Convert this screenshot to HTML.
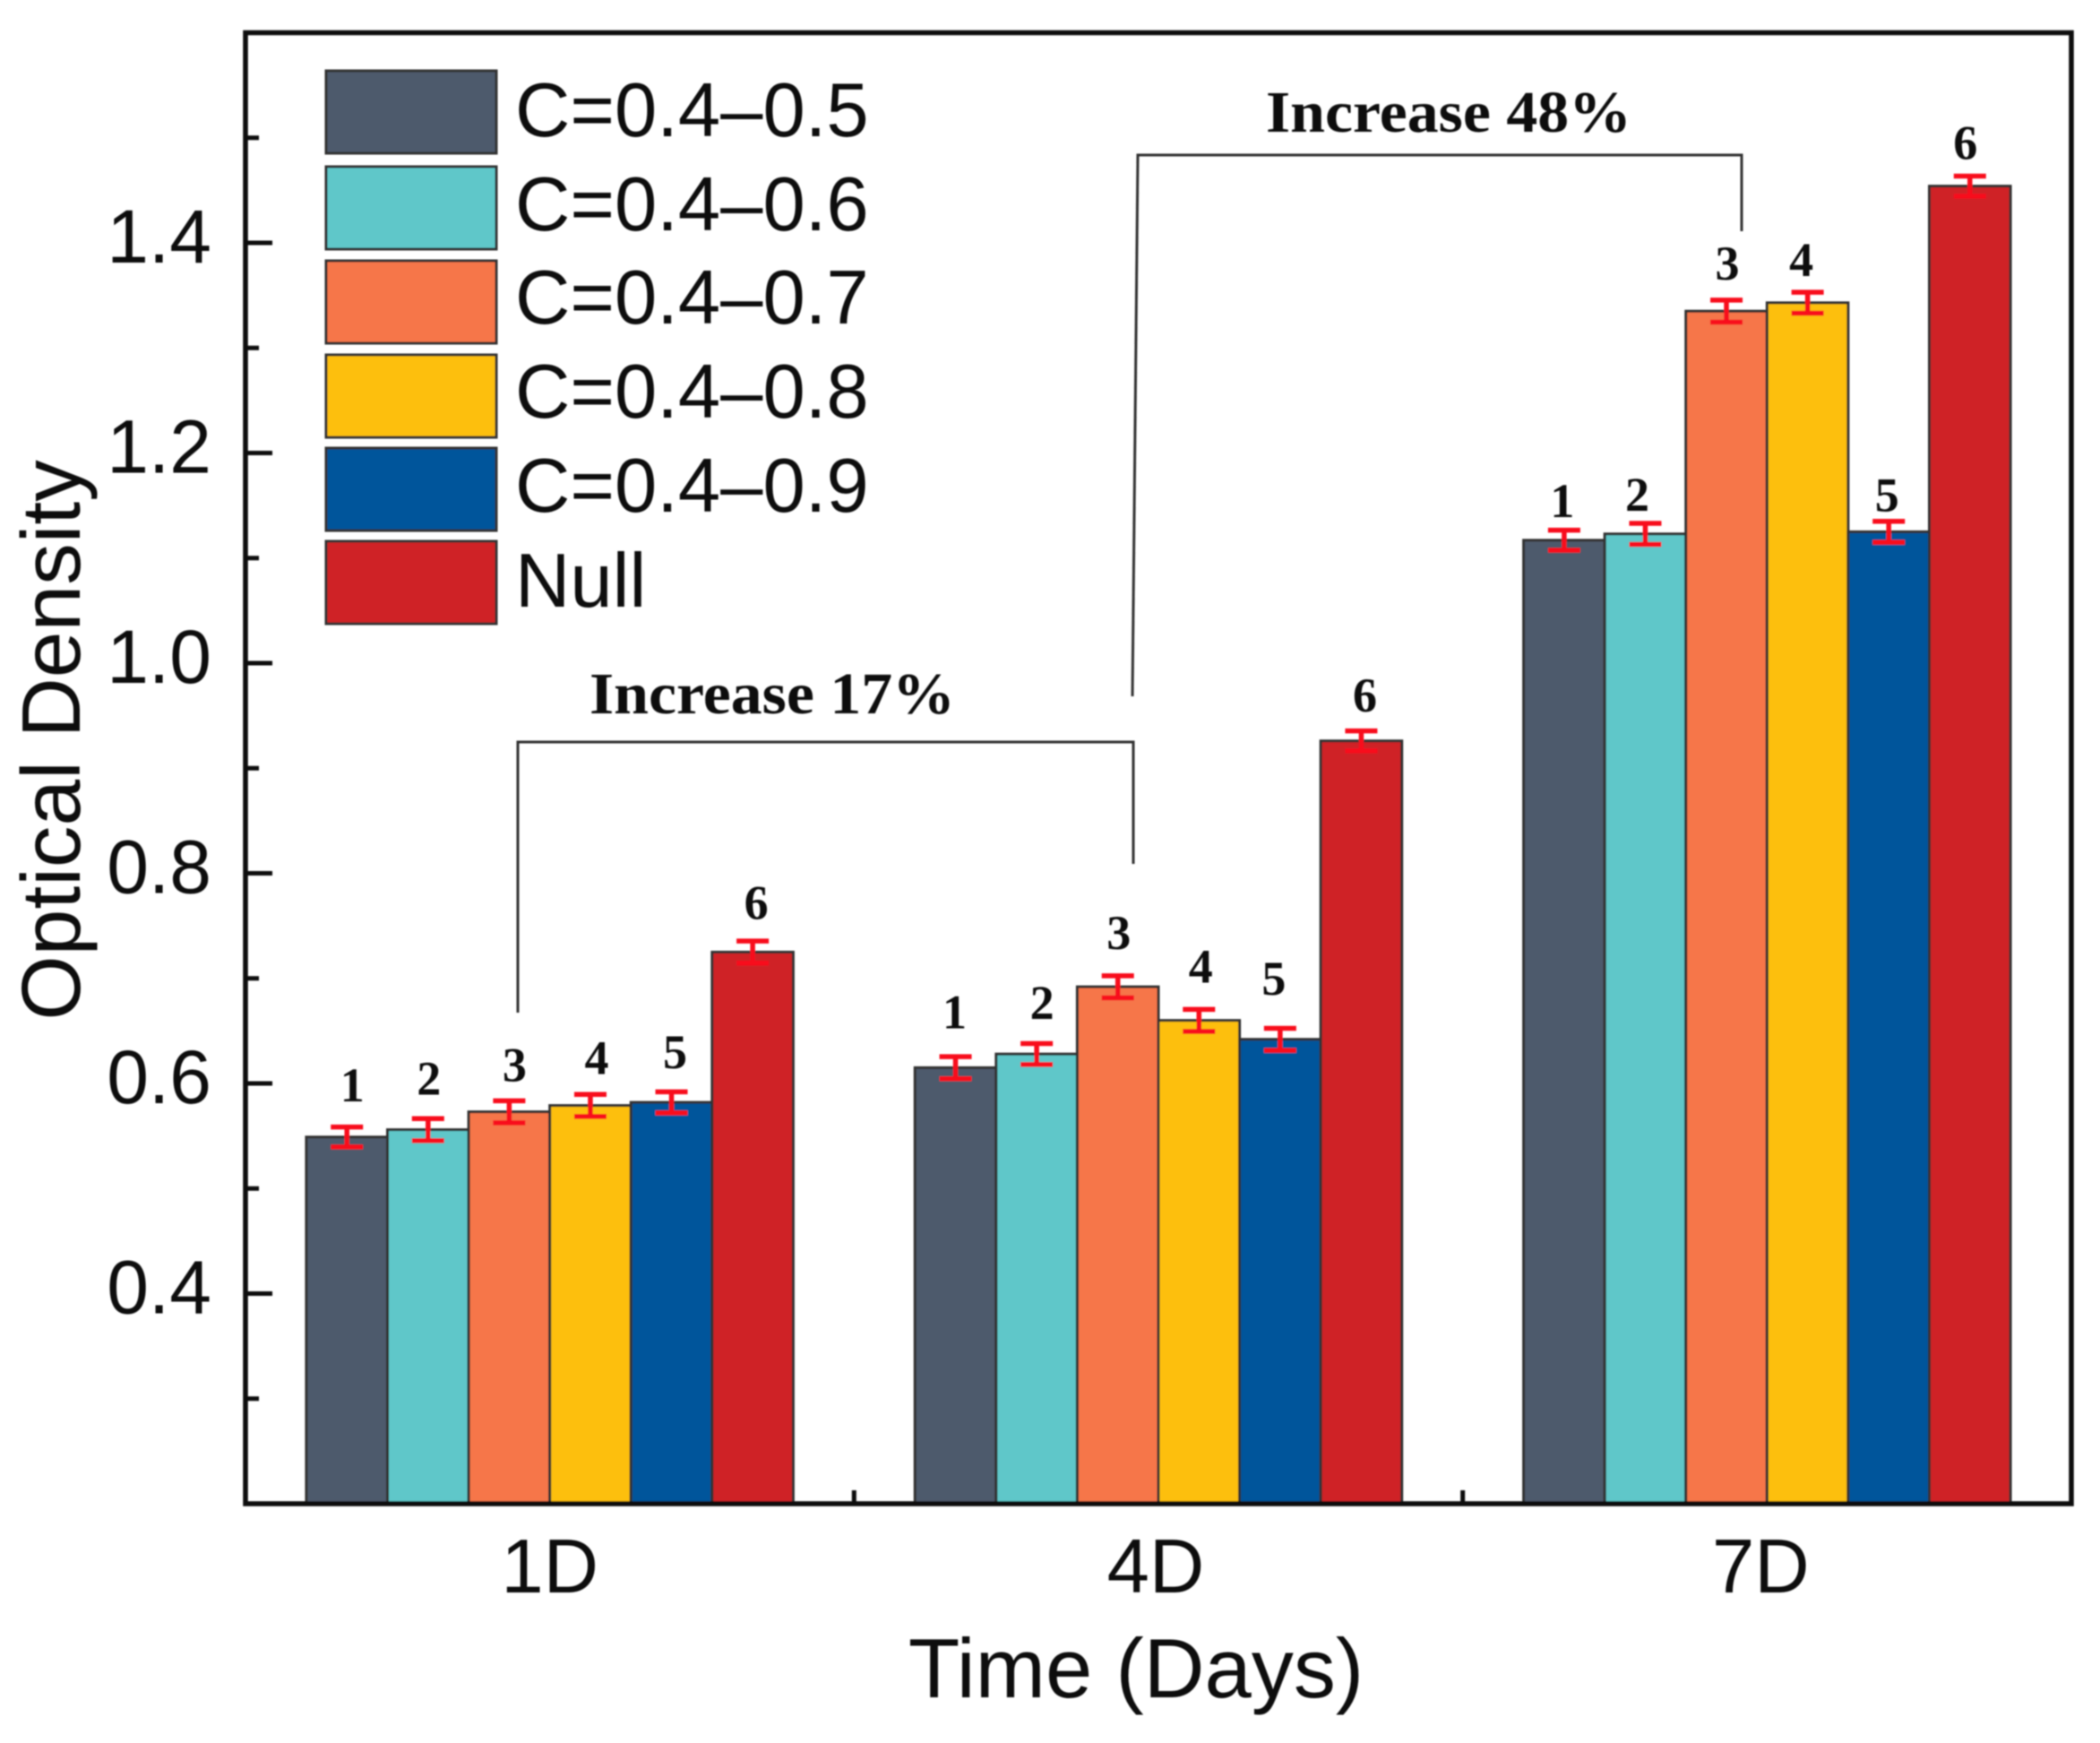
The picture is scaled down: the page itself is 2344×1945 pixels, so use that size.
<!DOCTYPE html>
<html lang="en">
<head>
<meta charset="utf-8">
<title>Optical Density by Time</title>
<style>
  html, body { margin: 0; padding: 0; background: #fff; width: 2344px; height: 1945px; overflow: hidden; }
  svg { display: block; }
  .sans { font-family: "Liberation Sans", Arial, sans-serif; fill: #111; }
  .serif { font-family: "Liberation Serif", "Times New Roman", serif; font-weight: bold; fill: #111; }
</style>
</head>
<body>
<svg id="chart" xmlns="http://www.w3.org/2000/svg" width="2344" height="1945" viewBox="0 0 2344 1945">
  <defs>
    <filter id="soft" x="-2%" y="-2%" width="104%" height="104%"><feGaussianBlur stdDeviation="0.9"/></filter>
  </defs>
  <g id="root" filter="url(#soft)">
    <g id="ticks"></g>
    <g id="bars"></g>
    <g id="errors"></g>
    <g id="numbers"></g>
    <rect x="274" y="36.5" width="2038" height="1641.5" fill="none" stroke="#0c0c0c" stroke-width="5.5"/>

    <text class="sans" font-size="93" text-anchor="middle" transform="translate(89 826) rotate(-90)">Optical Density</text>
    <text class="sans" font-size="94" text-anchor="middle" x="1268" y="1894">Time (Days)</text>

    <g>
      <g>
        <rect x="364" y="79" width="190" height="92" fill="#4e5a6c" stroke="#333" stroke-width="3"/>
        <text class="sans" x="575" y="152" font-size="85">C=0.4–0.5</text>
      </g>
      <g>
        <rect x="364" y="186" width="190" height="92" fill="#5fc7c9" stroke="#333" stroke-width="3"/>
        <text class="sans" x="575" y="257" font-size="85">C=0.4–0.6</text>
      </g>
      <g>
        <rect x="364" y="291" width="190" height="92" fill="#f6764a" stroke="#333" stroke-width="3"/>
        <text class="sans" x="575" y="361" font-size="85">C=0.4–0.7</text>
      </g>
      <g>
        <rect x="364" y="396" width="190" height="92" fill="#fdbf0f" stroke="#333" stroke-width="3"/>
        <text class="sans" x="575" y="466" font-size="85">C=0.4–0.8</text>
      </g>
      <g>
        <rect x="364" y="500" width="190" height="92" fill="#04559b" stroke="#333" stroke-width="3"/>
        <text class="sans" x="575" y="571" font-size="85">C=0.4–0.9</text>
      </g>
      <g>
        <rect x="364" y="604" width="190" height="92" fill="#cf2027" stroke="#333" stroke-width="3"/>
        <text class="sans" x="575" y="677" font-size="85">Null</text>
      </g>
    </g>

    <g>
      <polyline points="578,1130 578,828 1265,828 1265,964" fill="none" stroke="#333" stroke-width="3"/>
      <text class="serif" x="658" y="796" font-size="66" textLength="408" lengthAdjust="spacingAndGlyphs">Increase 17%</text>
    </g>
    <g>
      <polyline points="1264,777 1270,173 1944,173 1944,258" fill="none" stroke="#333" stroke-width="3"/>
      <text class="serif" x="1413" y="147" font-size="66" textLength="408" lengthAdjust="spacingAndGlyphs">Increase 48%</text>
    </g>
  </g>
</svg>

<script>
// Chart data
const categories = ['1D', '4D', '7D'];
const seriesNames = ['C=0.4-0.5', 'C=0.4-0.6', 'C=0.4-0.7', 'C=0.4-0.8', 'C=0.4-0.9', 'Null'];
const seriesC05 = [0.549, 0.615, 1.117];
const seriesC06 = [0.556, 0.628, 1.123];
const seriesC07 = [0.573, 0.692, 1.335];
const seriesC08 = [0.579, 0.660, 1.343];
const seriesC09 = [0.582, 0.642, 1.125];
const seriesNull = [0.725, 0.926, 1.454];
const errorC05 = [0.0095, 0.0105, 0.0095];
const errorC06 = [0.0105, 0.0100, 0.0100];
const errorC07 = [0.0105, 0.0105, 0.0105];
const errorC08 = [0.0105, 0.0105, 0.0100];
const errorC09 = [0.0100, 0.0105, 0.0100];
const errorNull = [0.0105, 0.0095, 0.0095];
const yTickLabels = ['0.4', '0.6', '0.8', '1.0', '1.2', '1.4'];
const yMinorTickValues = [0.3, 0.5, 0.7, 0.9, 1.1, 1.3, 1.5];
const barNumbers = ['1', '2', '3', '4', '5', '6'];

// Hand-placement nudges for labels (styling, not data)
const categoryLabelNudge = [0, -3, -7];
const numberNudgeX = [[6, 1, 6, 7, 4, 4], [-1, 6, 1, 2, -7, 4], [-2, -9, 1, -7, -2, -5]];
const numberNudgeY = [[-2, -1, 4, 3, 0, 1], [-6, -1, -4, -4, -12, 5], [12, 12, 3, 8, 15, 8]];

const allSeries = [seriesC05, seriesC06, seriesC07, seriesC08, seriesC09, seriesNull];
const allErrors = [errorC05, errorC06, errorC07, errorC08, errorC09, errorNull];
const seriesColors = ['#4e5a6c', '#5fc7c9', '#f6764a', '#fdbf0f', '#04559b', '#cf2027'];

const plotLeft = 274, plotRight = 2312, plotTop = 36.5, plotBottom = 1678;
const yMin = 0.2, yMax = 1.6;
const bandWidth = (plotRight - plotLeft) / categories.length;
const groupWidth = bandWidth * 0.8;
const barWidth = groupWidth / allSeries.length;

function yScale(v) {
  return plotBottom - (v - yMin) / (yMax - yMin) * (plotBottom - plotTop);
}
function xBand(i) {
  return plotLeft + bandWidth * (i + 0.5);
}
function xBar(cat, s) {
  return xBand(cat) - groupWidth / 2 + barWidth * s;
}

const NS = 'http://www.w3.org/2000/svg';
function make(parent, tag, props, text) {
  const el = document.createElementNS(NS, tag);
  for (const key in props) el.setAttribute(key, props[key]);
  if (text !== undefined) el.textContent = text;
  parent.appendChild(el);
  return el;
}

const ticksLayer = document.getElementById('ticks');
const barsLayer = document.getElementById('bars');
const errorsLayer = document.getElementById('errors');
const numbersLayer = document.getElementById('numbers');

// Y axis
yTickLabels.forEach(function (label) {
  const y = yScale(parseFloat(label));
  const tick = make(ticksLayer, 'line', { x1: plotLeft, x2: plotLeft + 30, y1: y, y2: y, stroke: '#0c0c0c', 'stroke-width': 5 });
  
  
  const txt = make(ticksLayer, 'text', { x: 236, y: y + 22, 'text-anchor': 'end', 'font-size': 84, class: 'sans' }, label);
  
  
});
yMinorTickValues.forEach(function (v) {
  const y = yScale(v);
  const tick = make(ticksLayer, 'line', { x1: plotLeft, x2: plotLeft + 15, y1: y, y2: y, stroke: '#0c0c0c', 'stroke-width': 5 });
  
  
});

// X axis
categories.forEach(function (cat, i) {
  const x = xBand(i);
  const tick = make(ticksLayer, 'line', { x1: x, x2: x, y1: plotBottom, y2: plotBottom - 30, stroke: '#0c0c0c', 'stroke-width': 5 });
  
  
  const txt = make(ticksLayer, 'text', { x: x + categoryLabelNudge[i], y: 1777, 'text-anchor': 'middle', 'font-size': 85, class: 'sans' }, cat);
  
  
  if (i > 0) {
    const minor = make(ticksLayer, 'line', { x1: x - bandWidth / 2, x2: x - bandWidth / 2, y1: plotBottom, y2: plotBottom - 15, stroke: '#0c0c0c', 'stroke-width': 5 });
    
    
  }
});

// Bars, error bars and number labels
allSeries.forEach(function (values, s) {
  values.forEach(function (value, c) {
    const x = xBar(c, s);
    const top = yScale(value);
    const bar = make(barsLayer, 'rect', { x: x, y: top, width: barWidth, height: plotBottom - top, fill: seriesColors[s], stroke: '#333', 'stroke-width': 3 });
    
    

    const err = allErrors[s][c];
    const cx = x + barWidth / 2;
    const yHi = yScale(value + err);
    const yLo = yScale(value - err);
    const whisker = make(errorsLayer, 'path', {
      d: 'M' + (cx - 18) + ' ' + yHi + 'H' + (cx + 18) + 'M' + cx + ' ' + yHi + 'V' + yLo + 'M' + (cx - 18) + ' ' + yLo + 'H' + (cx + 18),
      fill: 'none', stroke: '#f8101f', 'stroke-width': 5.5
    });
    
    

    const num = make(numbersLayer, 'text', {
      x: cx + numberNudgeX[c][s],
      y: top - 38 + numberNudgeY[c][s],
      'text-anchor': 'middle', 'font-size': 54, class: 'serif'
    }, barNumbers[s]);
    
    
  });
});
</script>
</body>
</html>
